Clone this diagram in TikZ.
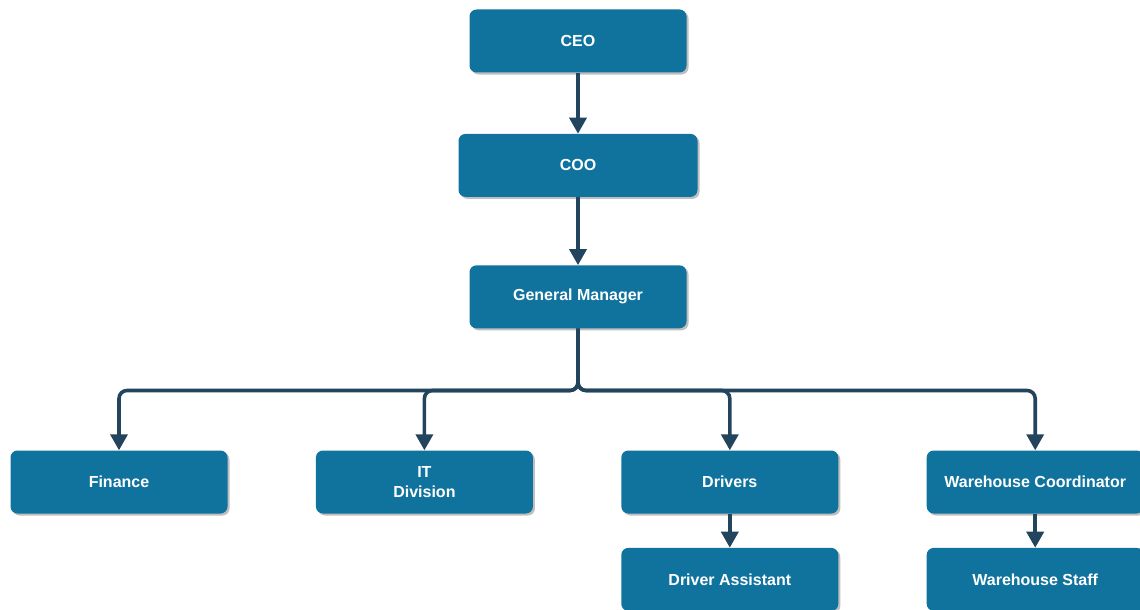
\documentclass[tikz,border=0pt]{standalone}
\usepackage{fontspec}
\setmainfont{Liberation Sans}
\usetikzlibrary{positioning,arrows.meta,shadows}
\definecolor{boxblue}{HTML}{10739E}
\definecolor{linkblue}{HTML}{23445D}
\begin{document}
\begin{tikzpicture}[x=1pt,y=1pt,
    >={Triangle[width=17pt,length=16pt]},
    link/.style={->,draw=linkblue,line width=3.6pt,rounded corners=8pt},
    org node/.style={rectangle,rounded corners=7pt,fill=boxblue,text=white,
        font=\fontsize{16}{20}\selectfont\bfseries,align=center,
        minimum width=217pt,minimum height=63pt,inner sep=0pt,
        drop shadow={shadow xshift=2pt,shadow yshift=-2pt,fill=black,opacity=0.25}}]

    \useasboundingbox (0,0) rectangle (1140,-610);

    % Define vertices
    \node[org node] (ceo) at (578,-41) {CEO};
    \node[org node,minimum width=239pt] (coo) [below=61pt of ceo] {COO};
    \node[org node] (gm) [below=68pt of coo] {General Manager};

    \node[org node] (fin) at (119,-482) {Finance};
    \node[org node] (it) [right=88pt of fin] {IT\\Division};
    \node[org node] (drv) [right=88pt of it] {Drivers};
    \node[org node] (wc) [right=88pt of drv] {Warehouse Coordinator};

    \node[org node] (da) [below=34pt of drv] {Driver Assistant};
    \node[org node] (ws) [below=34pt of wc] {Warehouse Staff};

    \coordinate (bus) at ([yshift=-62pt]gm.south);

    % Draw edges
    \draw[link] (ceo) -- (coo);
    \draw[link] (coo) -- (gm);
    \foreach \n in {fin,it,drv,wc}
        \draw[link] (gm.south) -- (gm.south |- bus) -| (\n.north);
    \draw[link] (drv) -- (da);
    \draw[link] (wc) -- (ws);

\end{tikzpicture}
\end{document}
